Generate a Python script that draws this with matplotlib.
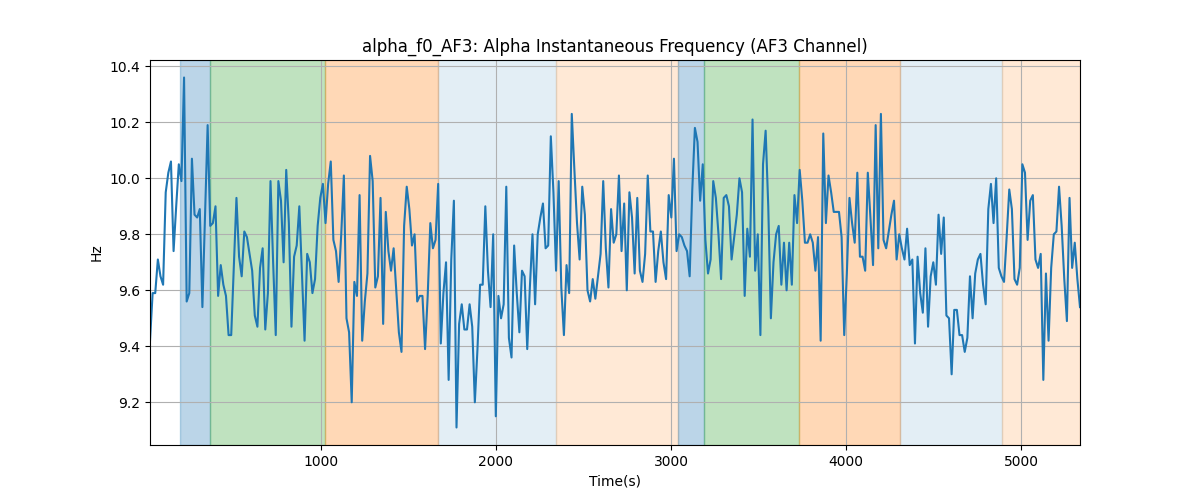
import numpy as np
import matplotlib
matplotlib.use("Agg")
import matplotlib.pyplot as plt

values = [
    9.42, 9.59, 9.59, 9.71, 9.65, 9.62, 9.95, 10.02, 10.06, 9.74, 9.90, 10.05, 9.99, 10.36, 9.56, 9.59,
    10.07, 9.87, 9.86, 9.89, 9.54, 9.86, 10.19, 9.83, 9.84, 9.90, 9.58, 9.69, 9.62, 9.58, 9.44, 9.44,
    9.68, 9.93, 9.72, 9.65, 9.81, 9.79, 9.73, 9.67, 9.51, 9.47, 9.68, 9.75, 9.46, 9.59, 9.99, 9.70,
    9.44, 9.99, 9.92, 9.70, 10.03, 9.84, 9.47, 9.72, 9.76, 9.90, 9.66, 9.42,
    9.73, 9.70, 9.59, 9.64, 9.83, 9.93, 9.98, 9.84, 9.98, 10.06, 9.78, 9.74, 9.63, 9.80, 10.01, 9.50,
    9.45, 9.20, 9.63, 9.58, 9.94, 9.42, 9.56, 9.66, 10.08, 9.99, 9.61, 9.65, 9.93, 9.48, 9.88, 9.74,
    9.67, 9.75, 9.60, 9.45, 9.38, 9.83, 9.97, 9.89, 9.76, 9.80, 9.56, 9.58, 9.58, 9.39, 9.58, 9.84,
    9.75, 9.78, 9.98, 9.41, 9.59, 9.70, 9.28, 9.71, 9.92, 9.11,
    9.48, 9.55, 9.46, 9.46, 9.55, 9.47, 9.20, 9.39, 9.62, 9.62, 9.90, 9.67, 9.54, 9.80, 9.15, 9.58,
    9.50, 9.55, 9.97, 9.43, 9.36, 9.76, 9.59, 9.45, 9.67, 9.65, 9.39, 9.61, 9.80, 9.55, 9.80, 9.86,
    9.91, 9.75, 9.76, 10.15, 9.95, 9.67, 9.99, 9.61, 9.44, 9.69, 9.59, 10.23, 10.03, 9.84, 9.71, 9.97,
    9.87, 9.60, 9.56, 9.64, 9.57, 9.65, 9.73, 9.99, 9.75, 9.61, 9.89, 9.77,
    9.80, 10.01, 9.74, 9.91, 9.60, 9.95, 9.86, 9.66, 9.93, 9.67, 9.63, 9.73, 10.01, 9.81, 9.81, 9.63,
    9.74, 9.81, 9.70, 9.64, 9.94, 9.86, 10.07, 9.74, 9.80, 9.79, 9.76, 9.74, 9.65, 9.96, 10.18, 10.13,
    9.92, 10.05, 9.78, 9.66, 9.71, 9.99, 9.93, 9.80, 9.64, 9.93, 9.94, 9.90, 9.71, 9.79, 9.87, 10.00,
    9.95, 9.58, 9.82, 9.72, 10.21, 9.67, 9.80, 9.44, 10.05, 10.17,
    9.90, 9.50, 9.70, 9.80, 9.83, 9.62, 9.77, 9.60, 9.77, 9.62, 9.94, 9.84, 10.03, 9.92, 9.77, 9.77,
    9.80, 9.77, 9.67, 9.79, 9.42, 10.16, 9.84, 10.01, 9.95, 9.88, 9.88, 9.88, 9.79, 9.44, 9.66, 9.93,
    9.84, 9.77, 10.02, 9.72, 9.72, 9.67, 10.02, 9.86, 9.69, 10.19, 9.75, 10.23, 9.78, 9.75, 9.81, 9.87,
    9.92, 9.71, 9.80, 9.75, 9.71, 9.82, 9.69, 9.71, 9.41, 9.72, 9.59, 9.52,
    9.75, 9.47, 9.65, 9.70, 9.62, 9.87, 9.73, 9.86, 9.51, 9.50, 9.30, 9.53, 9.53, 9.44, 9.44, 9.38,
    9.43, 9.65, 9.50, 9.66, 9.71, 9.73, 9.62, 9.55, 9.89, 9.98, 9.84, 10.00, 9.68, 9.65, 9.63, 9.79,
    9.96, 9.89, 9.64, 9.62, 9.68, 10.05, 10.02, 9.78, 9.92, 9.94, 9.71, 9.68, 9.73, 9.28, 9.66, 9.42,
    9.68, 9.80, 9.81, 9.97, 9.83, 9.64, 9.49, 9.93, 9.68, 9.77, 9.64, 9.54,
]

t_start = 23.0
t_end = 5337.0
times = np.linspace(t_start, t_end, len(values))

span_starts = [194, 366, 1023, 1669, 2343, 3040, 3189, 3731, 4309, 4891]
span_ends = [366, 1023, 1669, 2343, 3040, 3189, 3731, 4309, 4891, 5337]
span_colors = ["tab:blue", "tab:green", "tab:orange", "tab:blue", "tab:orange",
               "tab:blue", "tab:green", "tab:orange", "tab:blue", "tab:orange"]
span_alphas = [0.3, 0.3, 0.3, 0.12, 0.17, 0.3, 0.3, 0.3, 0.12, 0.17]

fig, ax = plt.subplots(figsize=(12, 5), dpi=100)
for s, e, c, a in zip(span_starts, span_ends, span_colors, span_alphas):
    ax.axvspan(s, e, color=c, alpha=a)
ax.plot(times, values, color="tab:blue", linewidth=1.5)
ax.set_xlim(t_start, t_end)
ax.grid(True)
ax.set_title("alpha_f0_AF3: Alpha Instantaneous Frequency (AF3 Channel)")
ax.set_xlabel("Time(s)")
ax.set_ylabel("Hz")
fig.savefig("out.png")
